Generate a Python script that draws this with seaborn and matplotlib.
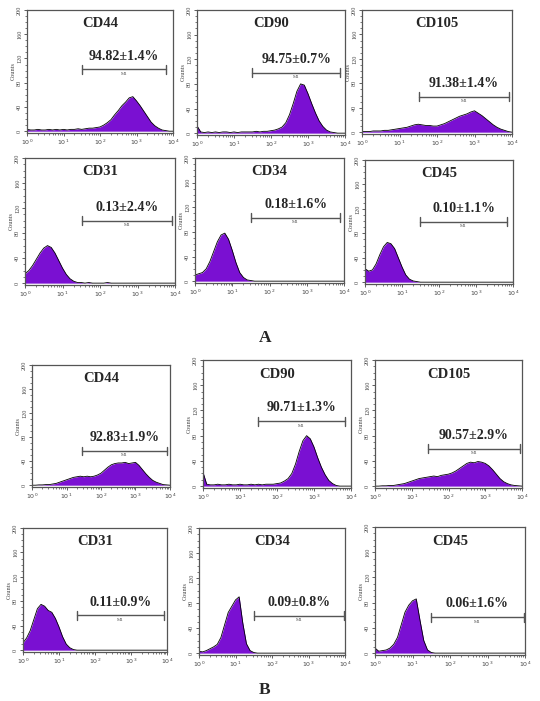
import numpy as np
import matplotlib.pyplot as plt
import seaborn as sns
from matplotlib.ticker import MultipleLocator, FixedLocator, NullFormatter

sns.set_theme(style="white")
plt.rcParams['font.family'] = ['Liberation Serif', 'DejaVu Serif']

# log10 fluorescence positions (0.1 decade steps from 10^0 to 10^4)
log_x = np.round(np.arange(0, 4.01, 0.1), 1)
events = 10 ** log_x

# Panel A counts
a_cd44 = [3, 2, 2, 3, 2, 2, 3, 2, 3, 2, 3, 2, 3, 3, 4, 3, 4, 5, 5, 6,
          7, 10, 14, 19, 27, 34, 42, 48, 55, 57, 50, 42, 33, 24, 15, 9, 5, 2, 1, 0, 0]
a_cd90 = [12, 2, 1, 2, 1, 2, 1, 2, 2, 1, 2, 1, 2, 2, 2, 2, 3, 2, 3, 3,
          4, 5, 7, 10, 17, 30, 48, 68, 80, 78, 64, 48, 33, 20, 11, 5, 2, 1, 0, 0, 0]
a_cd105 = [1, 1, 1, 2, 2, 2, 3, 3, 4, 5, 6, 7, 8, 10, 12, 13, 12, 11, 11, 10,
           10, 12, 14, 17, 20, 23, 26, 28, 30, 33, 35, 31, 27, 22, 17, 12, 8, 5, 3, 1, 0]
a_cd31 = [15, 20, 28, 38, 48, 56, 60, 57, 48, 36, 24, 14, 7, 3, 1, 1, 0, 1, 0, 0,
          0, 0, 1, 0, 0, 0, 0, 0, 0, 0, 0, 0, 0, 0, 0, 0, 0, 0, 0, 0, 0]
a_cd34 = [10, 12, 14, 20, 32, 48, 64, 75, 78, 68, 50, 30, 14, 6, 2, 1, 0, 0, 0, 0,
          0, 0, 0, 0, 0, 0, 0, 0, 0, 0, 0, 0, 0, 0, 0, 0, 0, 0, 0, 0, 0]
a_cd45 = [22, 18, 20, 30, 45, 58, 65, 63, 55, 40, 25, 12, 5, 2, 1, 0, 0, 0, 0, 0,
          0, 0, 0, 0, 0, 0, 0, 0, 0, 0, 0, 0, 0, 0, 0, 0, 0, 0, 0, 0, 0]

# Panel B counts
b_cd44 = [0, 0, 0.5, 0.5, 1, 1, 2, 3, 5, 7, 9, 11, 13, 14, 15, 14, 15, 14, 15, 17,
          20, 25, 30, 34, 36, 37, 37, 38, 36, 37, 38, 33, 26, 19, 13, 8, 5, 3, 1, 0.5, 0]
b_cd90 = [22, 3, 2, 2, 3, 2, 2, 3, 2, 2, 3, 2, 2, 3, 2, 3, 2, 3, 3, 3,
          4, 5, 8, 12, 20, 35, 55, 72, 80, 75, 62, 45, 30, 18, 9, 4, 1, 0, 0, 0, 0]
b_cd105 = [0, 0, 0.5, 0.5, 1, 1, 2, 3, 4, 6, 8, 10, 12, 13, 14, 15, 16, 15, 17, 18,
           19, 21, 24, 28, 32, 36, 38, 37, 39, 38, 36, 32, 26, 19, 12, 7, 4, 2, 1, 0.5, 0]
b_cd31 = [12, 20, 32, 50, 68, 75, 72, 65, 62, 52, 38, 22, 10, 4, 1, 0, 0, 0, 0, 0,
          0, 0, 0, 0, 0, 0, 0, 0, 0, 0, 0, 0, 0, 0, 0, 0, 0, 0, 0, 0, 0]
b_cd34 = [3, 2, 4, 7, 10, 14, 25, 45, 65, 75, 85, 90, 48, 15, 4, 1, 0, 0, 0, 0,
          0, 0, 0, 0, 0, 0, 0, 0, 0, 0, 0, 0, 0, 0, 0, 0, 0, 0, 0, 0, 0]
b_cd45 = [8, 3, 4, 5, 8, 14, 25, 45, 65, 76, 83, 86, 52, 20, 5, 1, 0, 0, 0, 0,
          0, 0, 0, 0, 0, 0, 0, 0, 0, 0, 0, 0, 0, 0, 0, 0, 0, 0, 0, 0, 0]

markers = ["CD44", "CD90", "CD105", "CD31", "CD34", "CD45"]
a_pct = ["94.82±1.4%", "94.75±0.7%", "91.38±1.4%", "0.13±2.4%", "0.18±1.6%", "0.10±1.1%"]
b_pct = ["92.83±1.9%", "90.71±1.3%", "90.57±2.9%", "0.11±0.9%", "0.09±0.8%", "0.06±1.6%"]

# gate M1 limits (log10) and bar heights
a_gate = [(1.5, 3.82), (1.49, 3.87), (1.53, 3.91), (1.53, 3.92), (1.5, 3.9), (1.49, 3.84)]
b_gate = [(1.45, 3.9), (1.49, 3.84), (1.45, 3.94), (1.49, 3.93), (1.5, 3.98), (1.49, 3.96)]
a_bar_y = [102, 98, 58, 100, 103, 99]
b_bar_y = [57, 103, 59, 57, 60, 57]

# axes boxes in pixels: left, top, right, bottom
a_boxes = [(27, 10, 173, 133), (197, 10, 345, 135), (362, 10, 512, 134),
           (25, 158, 175, 285), (195, 158, 344, 283), (365, 160, 513, 284)]
b_boxes = [(32, 365, 170, 487), (203, 360, 351, 488), (375, 360, 522, 488),
           (23, 528, 167, 652), (199, 528, 345, 655), (375, 527, 525, 655)]

W, H = 540, 701
fig = plt.figure(figsize=(W / 100, H / 100), dpi=100)
purple = '#7a10d2'


def draw(box, counts, name, pct, gate, bar_y):
    l, t, r, b = box
    ax = fig.add_axes([l / W, 1 - b / H, (r - l) / W, (b - t) / H])
    ax.fill_between(events, counts, color=purple, lw=0)
    sns.lineplot(x=events, y=counts, ax=ax, color='black', lw=0.6)
    ax.set_xscale('log')
    ax.set_xlim(1, 1e4)
    ax.set_ylim(-3, 200)
    ax.xaxis.set_major_locator(FixedLocator([1, 10, 100, 1000, 10000]))
    ax.set_xticklabels([r'$10^0$', r'$10^1$', r'$10^2$', r'$10^3$', r'$10^4$'])
    ax.xaxis.set_minor_formatter(NullFormatter())
    ax.yaxis.set_major_locator(FixedLocator([0, 40, 80, 120, 160, 200]))
    ax.yaxis.set_minor_locator(MultipleLocator(10))
    for lab in ax.get_yticklabels():
        lab.set_rotation(90)
        lab.set_va('center')
    ax.tick_params(axis='both', which='major', labelsize=4.5, length=2.5, width=0.6,
                   colors='#444444', pad=1, bottom=True, left=True)
    ax.tick_params(axis='both', which='minor', length=1.5, width=0.5,
                   colors='#444444', bottom=True, left=True)
    ax.set_ylabel('Counts', fontsize=4.5, color='#444444', labelpad=1)
    ax.set_xlabel('')
    for sp in ax.spines.values():
        sp.set_color('#555555')
        sp.set_linewidth(0.9)
    ax.text(0.5, 0.89, name, transform=ax.transAxes, ha='center', va='center',
            fontsize=10.5, fontweight='bold')
    lo, hi = 10 ** gate[0], 10 ** gate[1]
    ax.plot([lo, hi], [bar_y, bar_y], color='#555555', lw=1)
    ax.plot([lo, lo], [bar_y - 7, bar_y + 7], color='#555555', lw=1)
    ax.plot([hi, hi], [bar_y - 7, bar_y + 7], color='#555555', lw=1)
    mid = 10 ** ((gate[0] + gate[1]) / 2)
    ax.text(mid, bar_y - 4, 'M1', ha='center', va='top', fontsize=3.5, color='#555555')
    ax.text(mid, bar_y + 11, pct, ha='center', va='bottom', fontsize=10, fontweight='bold')


a_counts = [a_cd44, a_cd90, a_cd105, a_cd31, a_cd34, a_cd45]
b_counts = [b_cd44, b_cd90, b_cd105, b_cd31, b_cd34, b_cd45]
for i in range(6):
    draw(a_boxes[i], a_counts[i], markers[i], a_pct[i], a_gate[i], a_bar_y[i])
    draw(b_boxes[i], b_counts[i], markers[i], b_pct[i], b_gate[i], b_bar_y[i])

fig.text(265 / W, 1 - 338 / H, 'A', ha='center', va='center', fontsize=12.5, fontweight='bold')
fig.text(265 / W, 1 - 690 / H, 'B', ha='center', va='center', fontsize=12.5, fontweight='bold')

fig.savefig('out.png', dpi=100)
